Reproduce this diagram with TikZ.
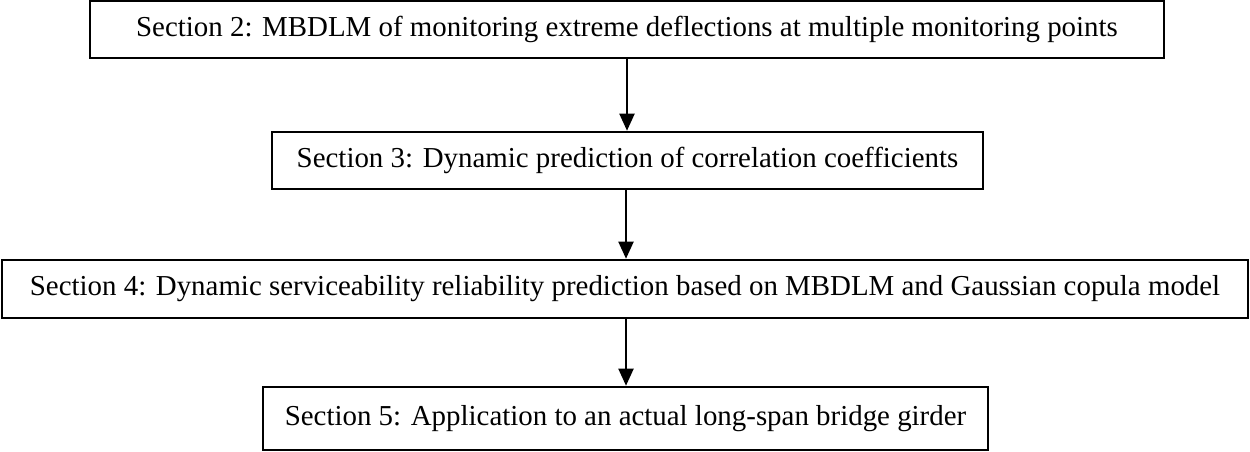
\documentclass[tikz,border=0pt]{standalone}
\usepackage{fontspec}
\setmainfont{Liberation Serif}
\usetikzlibrary{arrows.meta}
\begin{document}
\begin{tikzpicture}[x=1pt,y=1pt,
  secbox/.style={draw=black, line width=2.6pt, fill=white, inner sep=0pt, align=center,
    font=\fontsize{28.9}{34}\selectfont},
  flowarrow/.style={line width=2pt, -{Triangle[width=15pt,length=17pt]}}]
\useasboundingbox (0,0) rectangle (1250,-452);
\node[secbox, minimum width=1074pt, minimum height=57pt] (s2) at (627,-29.5)
  {Section 2: MBDLM of monitoring extreme deflections at multiple monitoring points};
\node[secbox, minimum width=711pt, minimum height=57pt] (s3) at (627.5,-160.5)
  {Section 3: Dynamic prediction of correlation coefficients};
\node[secbox, minimum width=1246pt, minimum height=58pt] (s4) at (625,-289)
  {Section 4: Dynamic serviceability reliability prediction based on MBDLM and Gaussian copula model};
\node[secbox, minimum width=725pt, minimum height=63pt] (s5) at (625.5,-418.5)
  {Section 5: Application to an actual long-span bridge girder};
\draw[flowarrow] (s2.south -| 627,0) -- (s3.north -| 627,0);
\draw[flowarrow] (s3.south -| 626,0) -- (s4.north -| 626,0);
\draw[flowarrow] (s4.south -| 626,0) -- (s5.north -| 626,0);
\end{tikzpicture}
\end{document}
